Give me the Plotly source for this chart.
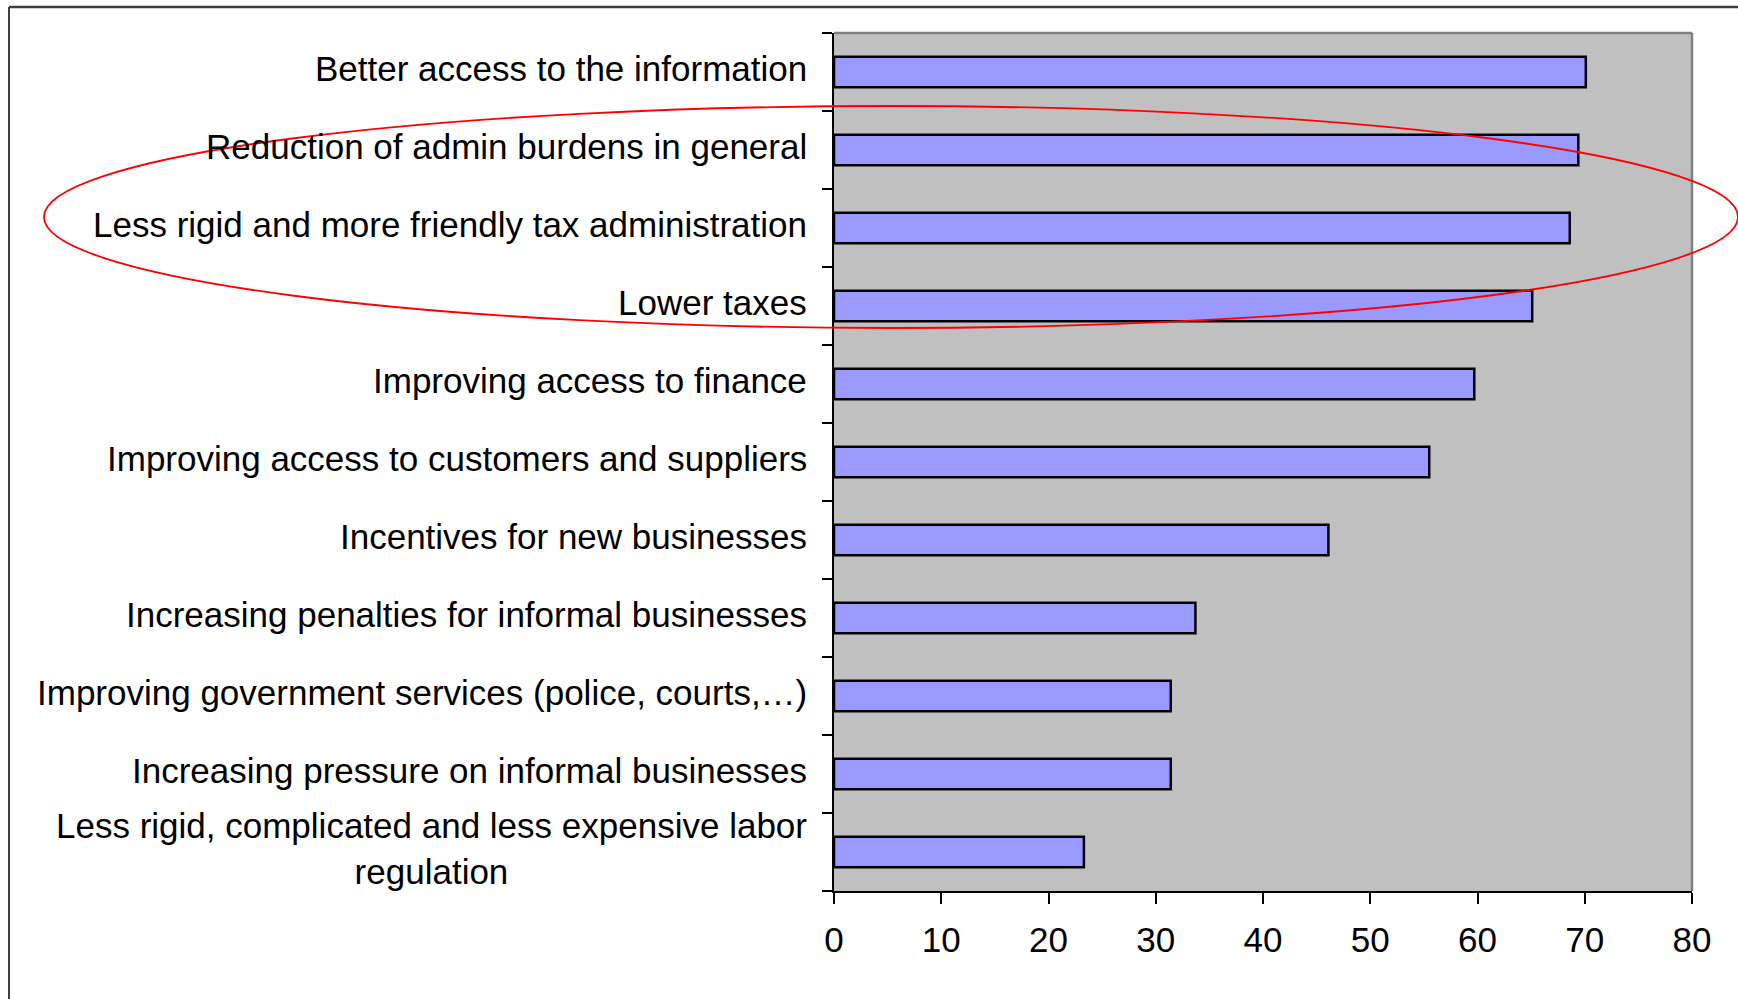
import plotly.graph_objects as go

# Survey answers: share of respondents (%) naming each measure
measures = [
    "Better access to the information",
    "Reduction of admin burdens in general",
    "Less rigid and more friendly tax administration",
    "Lower taxes",
    "Improving access to finance",
    "Improving access to customers and suppliers",
    "Incentives for new businesses",
    "Increasing penalties for informal businesses",
    "Improving government services (police, courts,\u2026)",
    "Increasing pressure on informal businesses",
    "Less rigid, complicated and less expensive labor<br>regulation",
]
shares = [70.1, 69.4, 68.6, 65.1, 59.7, 55.5, 46.1, 33.7, 31.4, 31.4, 23.3]
x_ticks = [0, 10, 20, 30, 40, 50, 60, 70, 80]

W, H = 1738, 999
L, R, T, B = 834, 46, 33, 108
pw, ph = W - L - R, H - T - B


def px_x(p):
    return (p - L) / pw


def px_y(p):
    return (H - B - p) / ph


FONT = "Liberation Sans, Arial, sans-serif"
cats = list(range(len(measures)))

fig = go.Figure(
    go.Bar(
        x=shares,
        y=cats,
        orientation="h",
        width=0.39,
        marker=dict(color="#9999FF", line=dict(color="black", width=2.5)),
        hoverinfo="x",
    )
)

# category labels, right-aligned against the axis, centred when wrapped
for c, label in zip(cats, measures):
    fig.add_annotation(
        x=0, xref="paper", xanchor="right", xshift=-25,
        y=c, yref="y", yanchor="middle", yshift=4,
        text=label, showarrow=False, align="center",
        font=dict(family=FONT, size=35, color="black"),
    )

shapes = [
    # plot frame: grey top and right edges
    dict(type="line", xref="paper", yref="paper", x0=0, x1=1, y0=1, y1=1,
         line=dict(color="#808080", width=2.5)),
    dict(type="line", xref="paper", yref="paper", x0=1, x1=1, y0=0, y1=1,
         line=dict(color="#808080", width=2.5)),
    # outer border of the chart object (top and left edges)
    dict(type="line", xref="paper", yref="paper", x0=px_x(9), x1=px_x(W + 5),
         y0=px_y(7), y1=px_y(7), line=dict(color="#404040", width=2.5)),
    dict(type="line", xref="paper", yref="paper", x0=px_x(9), x1=px_x(9),
         y0=px_y(7), y1=px_y(H + 5), line=dict(color="#404040", width=2)),
    # red ellipse highlighting the administrative measures
    dict(type="circle", xref="paper", yref="paper",
         x0=px_x(44), x1=px_x(1738), y0=px_y(328), y1=px_y(106),
         line=dict(color="#FF0000", width=1.8), fillcolor="rgba(0,0,0,0)"),
]

fig.update_layout(
    width=W, height=H,
    margin=dict(l=L, r=R, t=T, b=B, pad=0),
    paper_bgcolor="white",
    plot_bgcolor="#C0C0C0",
    showlegend=False,
    shapes=shapes,
    font=dict(family=FONT, color="black"),
    xaxis=dict(
        range=[0, 80], tickvals=x_ticks, ticktext=[str(v) for v in x_ticks],
        showgrid=False, zeroline=False,
        showline=True, linecolor="black", linewidth=2,
        ticks="outside", ticklen=11, tickwidth=1.5, tickcolor="black",
        tickfont=dict(family=FONT, size=35, color="black"),
        ticklabelstandoff=6,
    ),
    yaxis=dict(
        type="category", range=[len(cats) - 0.5, -0.5],
        tickmode="array", tickvals=cats, ticktext=["" for _ in cats],
        tickson="boundaries",
        showgrid=False, zeroline=False,
        showline=True, linecolor="black", linewidth=2,
        ticks="outside", ticklen=10, tickwidth=1.5, tickcolor="black",
    ),
)

fig.write_html("out.html")
